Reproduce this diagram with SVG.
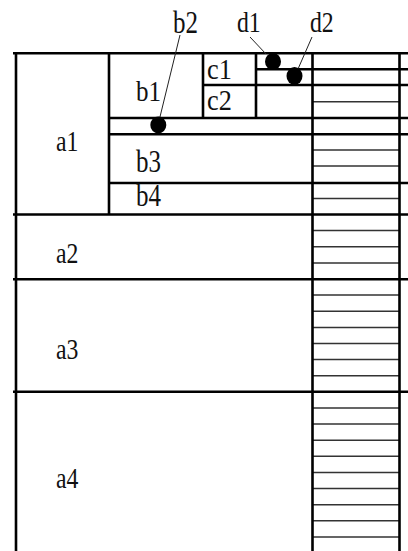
<svg xmlns="http://www.w3.org/2000/svg" width="408" height="551" viewBox="0 0 408 551">
<style>
.k{stroke:#000;stroke-width:2.6;fill:none}
.t{stroke:#333;stroke-width:1.5;fill:none}
.l{stroke:#222;stroke-width:1;fill:none}
.d{fill:#000}
.x{font-family:'Liberation Serif','Times New Roman',serif;font-size:25px;fill:#111}
</style>
<rect width="408" height="551" fill="#fff"/>
<g id="stripes">
<path class="t" d="M312.5 101.7H399.5M312.5 150H399.5M312.5 166.1H399.5M312.5 198.4H399.5M312.5 230.6H399.5M312.5 246.7H399.5M312.5 262.9H399.5M312.5 295.1H399.5M312.5 311.2H399.5M312.5 327.4H399.5M312.5 343.5H399.5M312.5 359.6H399.5M312.5 375.7H399.5M312.5 408H399.5M312.5 424.1H399.5M312.5 440.2H399.5M312.5 456.3H399.5M312.5 472.5H399.5M312.5 488.6H399.5M312.5 504.7H399.5M312.5 520.8H399.5M312.5 537H399.5"/>
</g>
<g id="frame">
<path class="k" d="M16 53V551M109 53V214.5M203 53V118M256 53V118M312.5 53V551M399.5 53V551"/>
<path class="k" d="M13 53.3H408M256 69.3H408M203 85H408M109 118H408M109 134.3H408M109 183H408M13 214.5H408M13 279.3H408M13 391.8H408"/>
</g>
<g id="connectors">
<path class="l" d="M180 35L158 125M250 37L266 54M312 37L298 69"/>
<ellipse class="d" cx="273" cy="61.5" rx="8" ry="8.5"/>
<ellipse class="d" cx="294.5" cy="76" rx="8" ry="9"/>
<ellipse class="d" cx="158.3" cy="125" rx="8" ry="8.5"/>
</g>
<g id="labels">
<g id="b2"><text class="x" transform="translate(173 33) scale(1 1.25)">b2</text></g>
<g id="d1"><text class="x" transform="translate(237 32) scale(0.95 1.15)">d1</text></g>
<g id="d2"><text class="x" transform="translate(310 32) scale(0.95 1.15)">d2</text></g>
<g id="b1"><text class="x" transform="translate(136 101) scale(1 1.2)">b1</text></g>
<g id="c1"><text class="x" transform="translate(207 79) scale(1.05 1.2)">c1</text></g>
<g id="c2"><text class="x" transform="translate(207 110) scale(1.05 1.2)">c2</text></g>
<g id="a1"><text class="x" transform="translate(56 151) scale(0.95 1.15)">a1</text></g>
<g id="b3"><text class="x" transform="translate(136 172) scale(1 1.25)">b3</text></g>
<g id="b4"><text class="x" transform="translate(136 206) scale(1 1.25)">b4</text></g>
<g id="a2"><text class="x" transform="translate(56 263) scale(0.95 1.15)">a2</text></g>
<g id="a3"><text class="x" transform="translate(56 359) scale(0.95 1.15)">a3</text></g>
<g id="a4"><text class="x" transform="translate(56 488) scale(0.95 1.15)">a4</text></g>
</g>
</svg>
